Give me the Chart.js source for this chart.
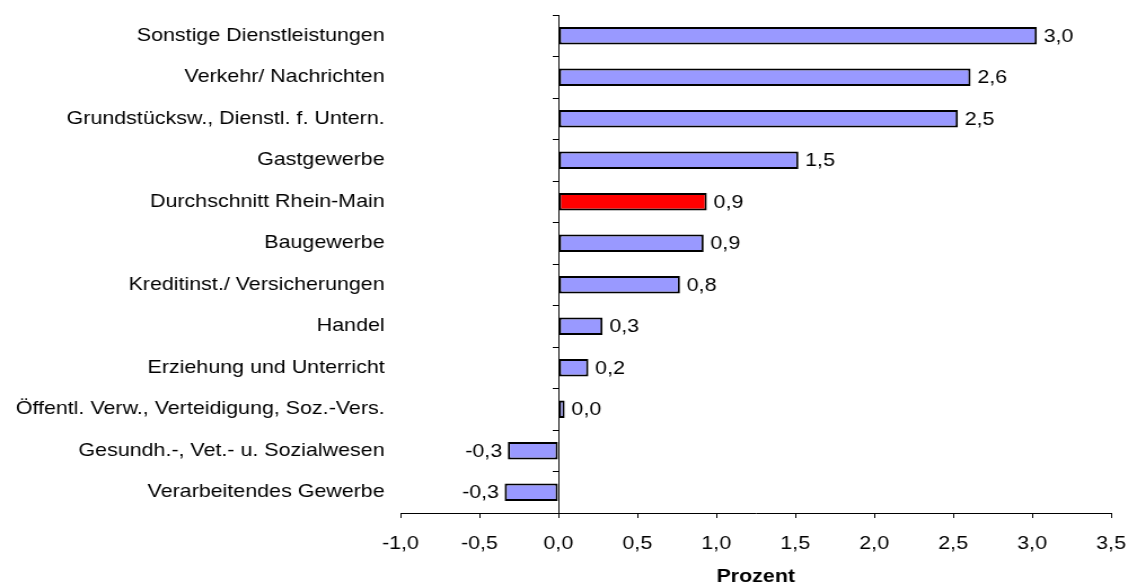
<!DOCTYPE html>
<html>
<head>
<meta charset="utf-8">
<script src="https://cdn.jsdelivr.net/npm/chart.js@4"></script>
<style>
  html, body { margin: 0; padding: 0; background: #fff; overflow: hidden; }
  /* the reference looks horizontally stretched, so draw narrower and stretch */
  #chart { display: block; transform: scaleX(1.128); transform-origin: 0 0; }
</style>
</head>
<body>
<canvas id="chart" width="1000" height="588"></canvas>
<script>
const categories = [
    'Sonstige Dienstleistungen',
    'Verkehr/ Nachrichten',
    'Grundstücksw., Dienstl. f. Untern.',
    'Gastgewerbe',
    'Durchschnitt Rhein-Main',
    'Baugewerbe',
    'Kreditinst./ Versicherungen',
    'Handel',
    'Erziehung und Unterricht',
    'Öffentl. Verw., Verteidigung, Soz.-Vers.',
    'Gesundh.-, Vet.- u. Sozialwesen',
    'Verarbeitendes Gewerbe'
];
const values = [3.03, 2.61, 2.53, 1.52, 0.94, 0.92, 0.77, 0.28, 0.19, 0.04, -0.32, -0.34];
const highlight = 'Durchschnitt Rhein-Main';
const xMin = -1.0;
const xMax = 3.5;
const xStep = 0.5;
const axisTitle = 'Prozent';

const FONT = 'Arial, "Liberation Sans", Helvetica, sans-serif';
const SIZE = 19;
const fmt = v => v.toFixed(1).replace('.', ',').replace(/^-0,0$/, '0,0');

// value labels next to the bar ends
const valueLabels = {
    id: 'valueLabels',
    afterDatasetsDraw(chart) {
        const ctx = chart.ctx;
        const meta = chart.getDatasetMeta(0);
        ctx.save();
        ctx.font = SIZE + 'px ' + FONT;
        ctx.fillStyle = '#000';
        ctx.textBaseline = 'middle';
        meta.data.forEach((bar, i) => {
            const v = values[i];
            if (v >= 0) {
                ctx.textAlign = 'left';
                ctx.fillText(fmt(v), bar.x + 6, bar.y + 1);
            } else {
                ctx.textAlign = 'right';
                ctx.fillText(fmt(v), bar.x - 5, bar.y + 1);
            }
        });
        ctx.restore();
    }
};

new Chart(document.getElementById('chart'), {
    type: 'bar',
    data: {
        labels: categories,
        datasets: [{
            data: values,
            backgroundColor: categories.map(c => c === highlight ? '#FF0000' : '#9999FF'),
            borderColor: '#000',
            borderWidth: 2,
            borderSkipped: false,
            barPercentage: 0.42,
            categoryPercentage: 1.0
        }]
    },
    options: {
        indexAxis: 'y',
        responsive: false,
        animation: false,
        devicePixelRatio: 1,
        layout: { padding: { top: 15, right: 15, bottom: 0, left: 0 } },
        plugins: {
            legend: { display: false },
            tooltip: { enabled: false }
        },
        scales: {
            x: {
                type: 'linear',
                position: 'bottom',
                min: xMin,
                max: xMax,
                afterFit(scale) {
                    scale.height = 75;
                    scale.paddingLeft = 0;
                    scale.paddingRight = 0;
                },
                ticks: {
                    stepSize: xStep,
                    color: '#000',
                    font: { family: FONT, size: SIZE },
                    padding: 14,
                    maxRotation: 0,
                    callback: v => fmt(v)
                },
                grid: {
                    drawOnChartArea: false,
                    drawTicks: true,
                    tickLength: 5,
                    color: '#000'
                },
                border: { display: true, color: '#000', width: 1 },
                title: {
                    display: true,
                    text: axisTitle,
                    color: '#000',
                    font: { family: FONT, size: SIZE, weight: 'bold' },
                    padding: { top: 10, bottom: 0 }
                }
            },
            y: {
                type: 'category',
                position: 'left',
                offset: true,
                afterFit(scale) {
                    scale.width = 355;
                    scale.paddingTop = 0;
                    scale.paddingBottom = 0;
                },
                ticks: {
                    color: '#000',
                    font: { family: FONT, size: SIZE },
                    padding: 14
                },
                grid: { display: false, drawTicks: false },
                border: { display: false }
            },
            // axis line at zero with the small category ticks
            y2: {
                type: 'category',
                position: { x: 0 },
                offset: true,
                afterFit(scale) {
                    scale.paddingTop = 0;
                    scale.paddingBottom = 0;
                    scale.paddingLeft = 0;
                    scale.paddingRight = 0;
                },
                ticks: { display: false },
                grid: {
                    drawOnChartArea: false,
                    drawTicks: true,
                    tickLength: 5,
                    offset: true,
                    color: '#000'
                },
                border: { display: true, color: '#000', width: 1 }
            }
        }
    },
    plugins: [valueLabels]
});
</script>
</body>
</html>
